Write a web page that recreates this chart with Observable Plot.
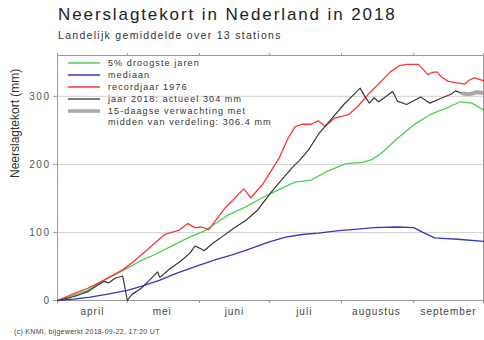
<!DOCTYPE html>
<html>
<head>
<meta charset="utf-8">
<script src="https://cdn.jsdelivr.net/npm/d3@7"></script>
<script src="https://cdn.jsdelivr.net/npm/@observablehq/plot@0.6"></script>
<style>
  body { margin: 0; background: #fff; font-family: "Liberation Sans", Arial, Helvetica, sans-serif; color: #222; }
  #wrap { position: relative; width: 484px; height: 340px; overflow: hidden; }
  #head { position: relative; height: 44px; }
  #title { position: absolute; left: 58px; top: 6px; font-size: 17px; line-height: 1; letter-spacing: 1.9px; color: #222; white-space: nowrap; }
  #subtitle { position: absolute; left: 58px; top: 30px; font-size: 10.5px; line-height: 1; letter-spacing: 1.3px; color: #333; white-space: nowrap; }
  #chart { height: 280px; }
  #caption { height: 16px; line-height: 16px; padding-left: 14px; font-size: 7px; letter-spacing: 0.3px; color: #444; white-space: nowrap; }
</style>
</head>
<body>
<div id="wrap">
  <div id="head">
    <div id="title">Neerslagtekort in Nederland in 2018</div>
    <div id="subtitle">Landelijk gemiddelde over 13 stations</div>
  </div>
  <div id="chart"></div>
  <div id="caption">(c) KNMI, bijgewerkt 2018-09-22, 17:20 UT</div>
</div>
<script>
// ---- data ----
const droogDates  = ["04-01","04-08","04-14","04-21","04-29","05-06","05-13","05-20","05-27","06-03","06-13","06-21","06-28","07-05","07-12","07-19","07-26","08-03","08-10","08-14","08-18","08-25","09-01","09-08","09-16","09-21","09-26","10-01"];
const droogValues = [0,8,15,30,44,57,68,80,92,102,125,138,151,163,174,177,190,201,203,207,216,238,258,273,284,292,290,280];

const mediaanDates  = ["04-01","04-08","04-15","04-22","05-01","05-08","05-15","05-22","06-01","06-08","06-15","06-22","07-01","07-08","07-15","07-22","08-01","08-08","08-15","08-25","09-01","09-05","09-10","09-15","09-20","10-01"];
const mediaanValues = [0,2,5,9,15,22,30,40,52,60,67,75,86,93,97,99,103,105,107,108,107,100,92,91,90,87];

const recordDates  = ["04-01","04-08","04-14","04-21","04-29","05-04","05-12","05-17","05-23","05-27","05-30","06-02","06-05","06-08","06-12","06-16","06-20","06-21","06-23","06-28","07-05","07-09","07-12","07-15","07-19","07-22","07-25","07-29","08-04","08-08","08-13","08-18","08-22","08-26","08-29","09-03","09-05","09-07","09-09","09-11","09-13","09-16","09-19","09-23","09-25","09-27","10-01"];
const recordValues = [0,10,18,30,45,58,82,97,103,113,107,108,104,118,136,150,164,160,151,170,208,238,255,259,259,264,256,268,273,285,305,322,336,345,347,347,340,332,335,336,328,322,320,318,324,327,323];

const jaarDates  = ["04-01","04-05","04-10","04-14","04-18","04-21","04-23","04-26","04-29","05-01","05-03","05-07","05-10","05-14","05-15","05-19","05-24","05-28","05-30","06-01","06-03","06-07","06-10","06-16","06-21","06-26","07-02","07-06","07-11","07-14","07-18","07-22","07-28","08-02","08-07","08-09","08-11","08-13","08-15","08-17","08-23","08-25","08-29","09-04","09-08","09-12","09-17","09-19","09-22"];
const jaarValues = [0,3,8,13,22,28,26,33,36,0,9,18,28,42,34,46,58,70,80,77,73,85,92,107,118,133,160,176,196,206,222,244,268,288,305,312,300,290,298,292,307,293,288,299,290,296,303,308,304];

const verwachtingDates  = ["09-22","09-25","09-28","10-01","10-07"];
const verwachtingValues = [304,303,306,305,306.4];

const monthStarts = ["04-01","05-01","06-01","07-01","08-01","09-01","10-01"];
const monthMids   = ["04-16","05-16","06-16","07-16","08-16","09-16"];
const monthNames  = ["april","mei","juni","juli","augustus","september"];
const yTicks = [0, 100, 200, 300];

const legendLabels = [["5% droogste jaren"], ["mediaan"], ["recordjaar 1976"], ["jaar 2018: actueel 304 mm"], ["15-daagse verwachting met", "midden van verdeling: 306.4 mm"]];

// ---- build ----
const toDate = s => new Date("2018-" + s + "T00:00:00Z");
const table = (dates, values) => dates.map((d, i) => ({date: toDate(d), value: values[i]}));

const colors = {droog: "#4ccf4c", mediaan: "#3434c8", record: "#ff3434", jaar: "#383838", verw: "#a9a9a9"};

const svg = Plot.plot({
  width: 484,
  height: 280,
  marginTop: 11,
  marginBottom: 24,
  marginLeft: 57,
  marginRight: 1,
  style: {fontFamily: "'Liberation Sans', Arial, Helvetica, sans-serif", background: "transparent"},
  x: {type: "utc", domain: [toDate("04-01"), toDate("10-01")], label: null},
  y: {domain: [0, 360], label: null},
  marks: [
    Plot.gridY(yTicks.slice(1), {stroke: "#d4d4d4", strokeOpacity: 1}),
    Plot.frame({stroke: "#9a9a9a"}),
    Plot.axisY({ticks: yTicks, tickSize: 4, tickPadding: 3, fontSize: 10, color: "#555", stroke: "#9a9a9a", label: null}),
    Plot.axisX({anchor: "top", ticks: monthStarts.map(toDate), tickSize: 3, tickFormat: () => "", stroke: "#9a9a9a", label: null}),
    Plot.axisX({anchor: "bottom", ticks: monthStarts.map(toDate), tickSize: 3, tickFormat: () => "", stroke: "#9a9a9a", label: null}),
    Plot.axisX({anchor: "bottom", ticks: monthMids.map(toDate), tickSize: 0, tickPadding: 7, fontSize: 10, color: "#444",
      tickFormat: d => monthNames[d.getUTCMonth() - 3], label: null}),
    Plot.text(["Neerslagtekort (mm)"], {frameAnchor: "left", rotate: -90, dx: -42, fontSize: 12, fill: "#333"}),
    Plot.line(table(mediaanDates, mediaanValues), {x: "date", y: "value", stroke: colors.mediaan, strokeWidth: 1.3}),
    Plot.line(table(droogDates, droogValues), {x: "date", y: "value", stroke: colors.droog, strokeWidth: 1.3}),
    Plot.line(table(recordDates, recordValues), {x: "date", y: "value", stroke: colors.record, strokeWidth: 1.3}),
    Plot.line(table(jaarDates, jaarValues), {x: "date", y: "value", stroke: colors.jaar, strokeWidth: 1.2}),
    Plot.line(table(verwachtingDates, verwachtingValues), {x: "date", y: "value", stroke: colors.verw, strokeWidth: 4, clip: true})
  ]
});

// letter spacing to mimic the wide original lettering
d3.select(svg).selectAll("g[aria-label='x-axis tick label'] text").style("letter-spacing", "1px");
d3.select(svg).selectAll("g[aria-label='y-axis tick label'] text").style("letter-spacing", "1.5px");

// legend inside the plot area
const legendColors = [colors.droog, colors.mediaan, colors.record, colors.jaar, colors.verw];
const legendWidths = [1.5, 1.5, 1.5, 1.3, 3.5];
const legendRows = [19, 31, 43, 55, 67];
const lg = d3.select(svg).append("g").attr("aria-label", "legend")
  .attr("font-size", 9).attr("fill", "#333").attr("text-anchor", "start").style("letter-spacing", "1.1px");
legendLabels.forEach((lines, i) => {
  const y = legendRows[i];
  lg.append("line").attr("x1", 68).attr("x2", 100).attr("y1", y).attr("y2", y)
    .attr("stroke", legendColors[i]).attr("stroke-width", legendWidths[i]);
  lines.forEach((t, j) => {
    lg.append("text").attr("x", 108).attr("y", y + j * 11).attr("dy", "0.35em").attr("text-anchor", "start").text(t);
  });
});

document.getElementById("chart").appendChild(svg);
</script>
</body>
</html>
